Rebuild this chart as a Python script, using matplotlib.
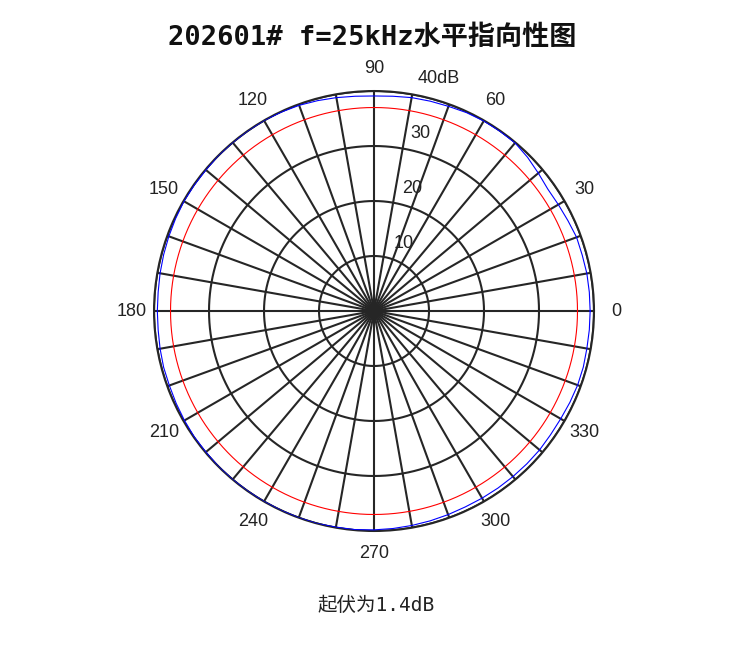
import numpy as np
import matplotlib
matplotlib.use("Agg")
import matplotlib.pyplot as plt

plt.rcParams['font.family'] = ['Liberation Sans', 'Noto Sans CJK SC', 'DejaVu Sans']

# measured level (dB) every 5 degrees, 0..355
angles_deg = np.arange(0, 360, 5)
level_db = [39.3, 39.3, 39.3, 39.2, 39.2, 38.9, 38.7, 38.6, 39.0, 39.5,
            39.9, 39.9, 39.9, 39.8, 39.6, 39.5, 39.4, 39.2, 39.1, 39.2,
            39.4, 39.6, 39.8, 39.9, 40.0, 40.0, 40.0, 40.0, 39.9, 39.9,
            39.9, 39.8, 39.7, 39.6, 39.5, 39.4, 39.4, 39.4, 39.5, 39.6,
            39.6, 39.7, 39.8, 39.9, 39.9, 40.0, 40.0, 40.0, 40.0, 40.0,
            40.0, 40.0, 39.9, 39.9, 39.8, 39.7, 39.6, 39.5, 39.4, 39.3,
            39.3, 39.3, 39.3, 39.3, 39.3, 39.2, 39.2, 39.3, 39.4, 39.4,
            39.3, 39.3]
ref_db = 37.0  # -3 dB reference
r_ticks = [10, 20, 30, 40]
r_labels = ['10', '20', '30', '40dB']
# label centres (r, theta_deg)
r_label_pos = [(13.5, 66.2), (23.4, 72.8), (33.3, 75.4), (43.8, 74.4)]
theta_labels = list(range(0, 360, 30))

title = '202601# f=25kHz水平指向性图'
note = '起伏为1.4dB'

grid_c = '#262626'
mono_cjk = ['DejaVu Sans Mono', 'Noto Sans CJK SC']

fig = plt.figure(figsize=(7.44, 6.52), dpi=100)
ax = fig.add_axes([0.207, 0.1856, 0.5914, 0.6748], projection='polar')
ax.set_ylim(0, 40)
ax.set_xticks([])
ax.set_yticks([])
ax.grid(False)
ax.spines['polar'].set_color(grid_c)
ax.spines['polar'].set_linewidth(1.5)

# spokes every 10 deg
for a in range(0, 360, 10):
    ax.plot([np.deg2rad(a)] * 2, [0, 40], color=grid_c, lw=1.5, zorder=1)
# rings
th = np.linspace(0, 2 * np.pi, 721)
for r in r_ticks:
    ax.plot(th, np.full_like(th, r), color=grid_c, lw=1.5, zorder=1)

theta = np.deg2rad(np.append(angles_deg, 360))
vals = np.append(level_db, level_db[0])
ax.plot(theta, vals, color='#0000ff', lw=0.8, zorder=3)
ax.plot(th, np.full_like(th, ref_db), color='#ff0000', lw=0.8, zorder=3)

for a in theta_labels:
    ax.text(np.deg2rad(a), 44.1, str(a), ha='center', va='center',
            fontsize=13, color='#222222', clip_on=False)
for lab, (rr, tt) in zip(r_labels, r_label_pos):
    ax.text(np.deg2rad(tt), rr, lab, ha='center', va='center',
            fontsize=13, color='#222222', clip_on=False)

fig.text(0.5, 0.942, title, ha='center', va='center', fontsize=19.5,
         fontweight='bold', family=mono_cjk, color='#111111')
fig.text(0.505, 0.072, note, ha='center', va='center', fontsize=14,
         family=mono_cjk, color='#222222')

fig.savefig('out.png', dpi=100)
